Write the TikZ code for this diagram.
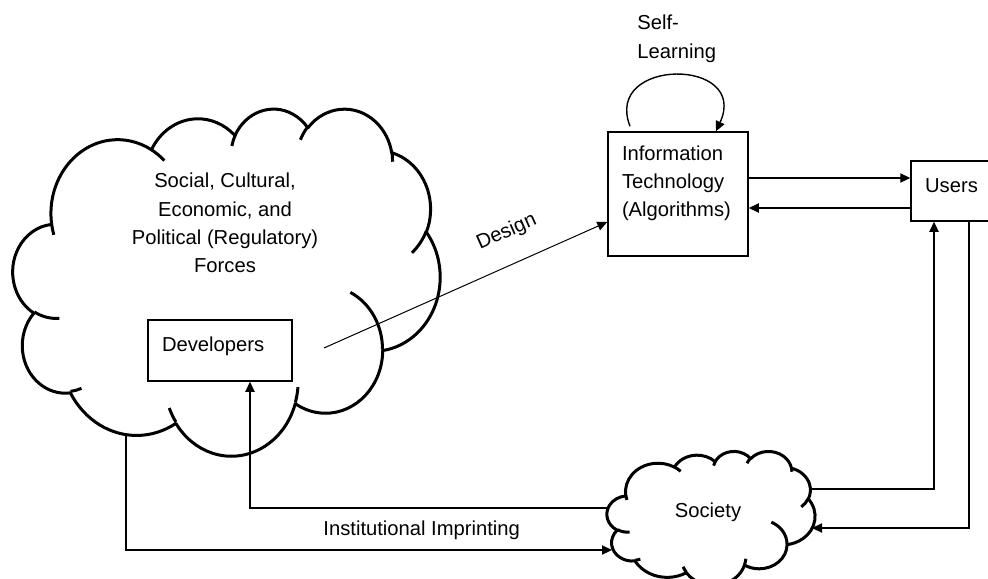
\documentclass[tikz,border=0pt]{standalone}
\usepackage{fontspec}
\setmainfont{Liberation Sans}
\usetikzlibrary{arrows.meta}

\tikzset{
	pics/puffcloud/.style={code={
		\draw[puff] (39,143.7)
			arc[start angle=-187.75,end angle=-59.64,x radius=67.53,y radius=91.9]
			arc[start angle=-152.04,end angle=-45.45,x radius=53.33,y radius=72.67]
			arc[start angle=-153.5,end angle=-37.35,x radius=43.65,y radius=59.45]
			arc[start angle=-139.71,end angle=-10.21,x radius=48.57,y radius=65.95]
			arc[start angle=-74.77,end angle=23.21,x radius=53.33,y radius=72.73]
			arc[start angle=-37.52,end angle=81.86,x radius=67.75,y radius=92.2]
			arc[start angle=0.46,end angle=121.97,x radius=57.85,y radius=78.67]
			arc[start angle=16.84,end angle=146.23,x radius=67.52,y radius=92.15]
			arc[start angle=58.99,end angle=150.19,x radius=77.2,y radius=105.43]
			arc[start angle=-276.69,end angle=-136.89,x radius=43.6,y radius=59.18]
			arc[start angle=-239.65,end angle=-95.89,x radius=43.45,y radius=59.45]
			--cycle;
		\draw[puff] (46.93,261.77) arc[start angle=85.55,end angle=120.35,x radius=43.45,y radius=59.45]
			(69.28,348.99) arc[start angle=68.24,end angle=83.31,x radius=43.6,y radius=59.18]
			(164.78,390.9) arc[start angle=146.23,end angle=158.47,x radius=67.52,y radius=92.15]
			(288.27,347.51) arc[start angle=4.74,end angle=16.84,x radius=67.52,y radius=92.15]
			(341.29,229.54) arc[start angle=-64.03,end angle=0.46,x radius=57.85,y radius=78.67]
			(417.98,153.54) arc[start angle=23.21,end angle=49.64,x radius=53.33,y radius=72.73]
			(383.24,54.26) arc[start angle=-10.21,end angle=0.82,x radius=48.57,y radius=65.95]
			(290.78,39.52) arc[start angle=-156.29,end angle=-139.71,x radius=48.57,y radius=65.95]
			(221.41,47.2) arc[start angle=-167.73,end angle=-153.5,x radius=43.65,y radius=59.45]
			(140,51.92) arc[start angle=-59.64,end angle=-45.73,x radius=67.53,y radius=91.9]
			(41.27,157.89) arc[start angle=163.19,end angle=172.25,x radius=67.53,y radius=91.9];
	}}
}

\begin{document}
\begin{tikzpicture}[x=0.5pt,y=-0.5pt,>={Triangle[length=5pt,width=4.6pt]},
		font=\fontsize{10.1}{14.2}\selectfont,
		box/.style={draw,line width=0.75pt,inner sep=0pt},
		puff/.style={line width=1.5pt,line join=round},
		link/.style={->,line width=0.7pt},
		lbl/.style={inner sep=0pt}]
	\useasboundingbox (0,0) rectangle (988,578);
	\pic[xscale=0.98843,yscale=0.80324] at (13,108) {puffcloud};
	\pic[xscale=0.48148,yscale=0.31] at (607,451) {puffcloud};
	\node[lbl,anchor=north,align=center] (forces) at (225,172.6) {Social, Cultural,\\Economic, and\\Political (Regulatory)\\Forces};
	\node[lbl,anchor=base] (society) at (708,517) {Society};
	\node[box,text width=58pt,align=left,inner xsep=7pt,text height=15.85pt,text depth=14.65pt] (dev) at (220,350.5) {Developers};
	\node[box,text width=56pt,align=left,inner xsep=7pt,text height=14pt,text depth=48pt] (tech) at (678,194) {Information\\Technology\\(Algorithms)};
	\node[box,minimum width=40.5pt,text height=15.65pt,text depth=14.35pt] (users) at (951.5,191) {Users};
	\node[lbl,anchor=north west,align=left] (selflearn) at (637,14.7) {Self-\\Learning};
	\coordinate (forcesfoot) at (126,434.7);
	\coordinate (designfrom) at (324,348);
	\coordinate (socnw) at (608,508);
	\coordinate (socsw) at (612,550);
	\coordinate (socne) at (810,489);
	\coordinate (socse) at (812,528);
	\draw[link] ([shift={(-48,-5)}]tech.north) .. controls +(-27,-69) and +(34,-74) .. ([shift={(38,0)}]tech.north);
	\draw[link,line width=0.5pt] (designfrom) -- ([yshift=-14pt]tech.west) node[lbl,pos=0.69,sloped,above=10.75pt] (design) {Design};
	\draw[link] ([yshift=8pt]tech.east) -- ([yshift=8pt]tech.east -| users.west);
	\draw[link] ([yshift=-7pt]tech.east -| users.west) -- ([yshift=-7pt]tech.east);
	\draw[link] (socne) -| ([xshift=-8.75pt]users.south);
	\draw[link] ([xshift=8.75pt]users.south) |- (socse);
	\draw[link] (socnw) -| ([xshift=15pt]dev.south);
	\draw[link] (forcesfoot) |- (socsw);
	\node[lbl,anchor=base] (imprint) at (421.7,535) {Institutional Imprinting};
\end{tikzpicture}
\end{document}
